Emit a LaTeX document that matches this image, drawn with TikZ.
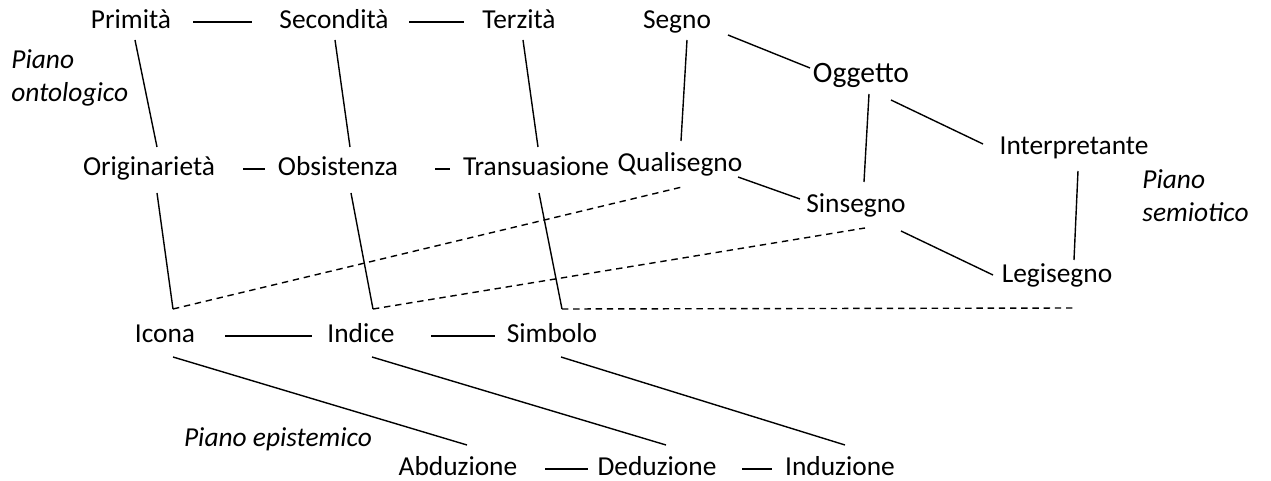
\documentclass[tikz,border=0pt]{standalone}
\usepackage{fontspec}
\setmainfont{Carlito}
\begin{document}
\begin{tikzpicture}[x=0.5pt,y=-0.5pt,
  lbl/.style={inner sep=0pt,anchor=mid,yshift=-1pt,font=\fontsize{13.7}{16.5}\selectfont},
  big/.style={inner sep=0pt,anchor=mid,yshift=-1pt,font=\fontsize{14.8}{17}\selectfont},
  plane/.style={inner sep=0pt,anchor=north west,align=left,font=\fontsize{13.7}{16.7}\selectfont\itshape},
  link/.style={line width=0.7pt},
  dlink/.style={line width=0.7pt,dash pattern=on 3.2pt off 2.4pt}]
\useasboundingbox (0,0) rectangle (1271,481);
% nodes
\node[lbl] (prim) at (131,22) {Primità};
\node[lbl] (sec) at (334,22) {Secondità};
\node[lbl] (ter) at (519,22) {Terzità};
\node[lbl] (seg) at (677,22) {Segno};
\node[big] (ogg) at (861,76) {Oggetto};
\node[lbl] (orig) at (149,169) {Originarietà};
\node[lbl] (obs) at (338,169) {Obsistenza};
\node[lbl] (tra) at (536,169) {Transuasione};
\node[lbl] (qua) at (680,165) {Qualisegno};
\node[lbl] (int) at (1074,148) {Interpretante};
\node[lbl] (sin) at (856,206) {Sinsegno};
\node[lbl] (leg) at (1057,276) {Legisegno};
\node[lbl] (ico) at (165,336) {Icona};
\node[lbl] (ind) at (361,336) {Indice};
\node[lbl] (sim) at (552,336) {Simbolo};
\node[lbl] (abd) at (458,469) {Abduzione};
\node[lbl] (ded) at (657,469) {Deduzione};
\node[lbl] (indu) at (840,469) {Induzione};
\node[plane] (pon) at (11,49) {Piano\\ontologico};
\node[plane] (psem) at (1142,169) {Piano\\semiotico};
\node[plane,anchor=mid,yshift=-1pt] (pep) at (278,440) {Piano epistemico};
% horizontal dashes
\draw[link] (193,22) coordinate (h1a) -- (252,22) coordinate (h1b);
\draw[link] (409,22) coordinate (h2a) -- (464,22) coordinate (h2b);
\draw[link] (243,169) coordinate (h3a) -- (265,169) coordinate (h3b);
\draw[link] (435,169) coordinate (h4a) -- (450,169) coordinate (h4b);
\draw[link] (225,336) coordinate (h5a) -- (312,336) coordinate (h5b);
\draw[link] (431,336) coordinate (h6a) -- (495,336) coordinate (h6b);
\draw[link] (545,469) coordinate (h7a) -- (588,469) coordinate (h7b);
\draw[link] (742,469) coordinate (h8a) -- (772,469) coordinate (h8b);
% ontological verticals
\draw[link] (135,40) coordinate (v1a) -- (157,147) coordinate (v1b);
\draw[link] (335,40) coordinate (v2a) -- (350,147) coordinate (v2b);
\draw[link] (523,40) coordinate (v3a) -- (538,147) coordinate (v3b);
\draw[link] (157,193) coordinate (v4a) -- (173,309) coordinate (c1);
\draw[link] (351,193) coordinate (v5a) -- (373,309) coordinate (c2);
\draw[link] (539,193) coordinate (v6a) -- (562,309) coordinate (c3);
% semiotic
\draw[link] (687,40) coordinate (s1a) -- (681,141) coordinate (s1b);
\draw[link] (728,35) coordinate (s2a) -- (810,68) coordinate (s2b);
\draw[link] (869,94) coordinate (s3a) -- (864,182) coordinate (s3b);
\draw[link] (891,100) coordinate (s4a) -- (983,144) coordinate (s4b);
\draw[link] (738,177) coordinate (s5a) -- (800,199) coordinate (s5b);
\draw[link] (1078,171) coordinate (s6a) -- (1074,260) coordinate (s6b);
\draw[link] (901,231) coordinate (s7a) -- (993,275) coordinate (s7b);
% dashed
\draw[dlink] (c1) -- (682,187) coordinate (d1);
\draw[dlink] (c2) -- (865,228) coordinate (d2);
\draw[dlink] (c3) -- (1075,308) coordinate (d3);
% epistemic
\draw[link] (173,357) coordinate (e1a) -- (467,445) coordinate (e1b);
\draw[link] (372,357) coordinate (e2a) -- (666,445) coordinate (e2b);
\draw[link] (561,357) coordinate (e3a) -- (845,445) coordinate (e3b);
\end{tikzpicture}
\end{document}
